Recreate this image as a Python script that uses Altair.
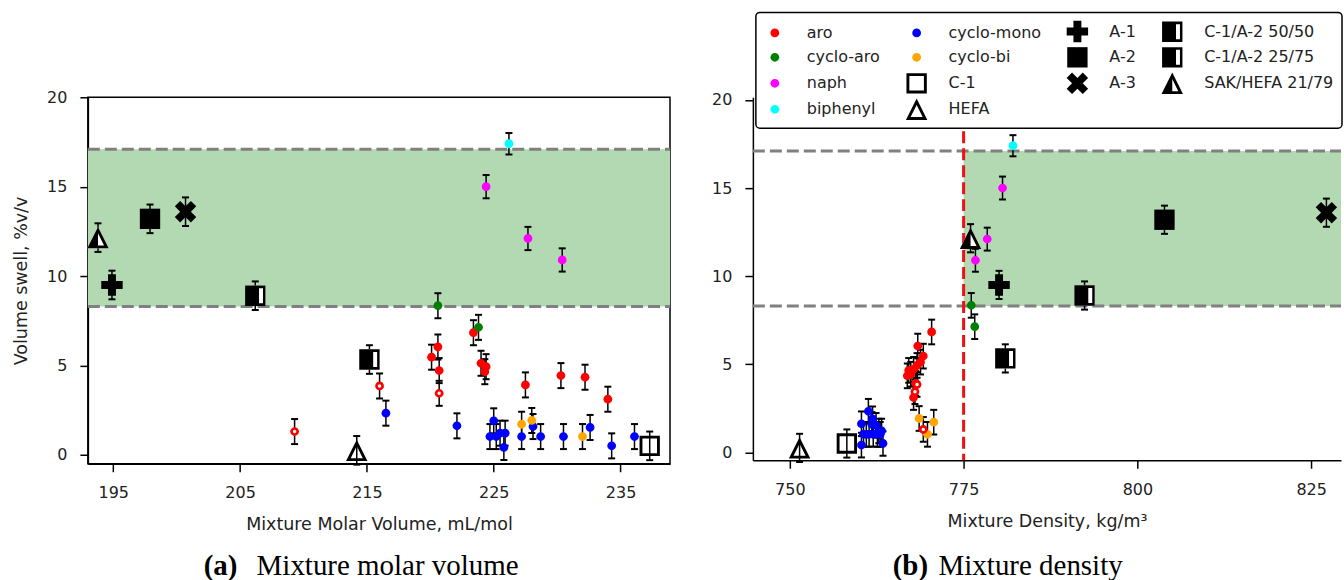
import altair as alt
import pandas as pd

# ---------------- data ----------------
# legend domain order (Vega lays a 4-column vertical legend out by index % 4)
legend_order = ["aro", "cyclo-aro", "naph", "SAK/HEFA 21/79",
                "cyclo-mono", "cyclo-bi", "C-1", "biphenyl",
                "A-1", "A-2", "A-3", "HEFA",
                "C-1/A-2 50/50", "C-1/A-2 25/75"]
legend_colors = ["#ff0000", "#008000", "#ff00ff", "black",
                 "#0000ff", "#ffa500", "black", "#00ffff",
                 "black", "black", "black", "black",
                 "black", "black"]

aro_mv = [220.6, 220.1, 220.7, 223.4, 224.0, 224.4, 224.3, 227.5, 230.3, 232.2, 234.0, 209.3, 216.0, 220.7]
aro_rho = [768.4, 769.2, 767.8, 770.4, 768.8, 768.3, 767.1, 768.1, 767.4, 766.9, 767.8, 769.2, 768.3, 768.0]
aro_sw = [6.03, 5.46, 4.71, 6.83, 5.12, 4.93, 4.65, 3.91, 4.43, 4.34, 3.11, 1.30, 3.85, 3.44]
aro_open = [0, 0, 0, 0, 0, 0, 0, 0, 0, 0, 0, 1, 1, 1]

cycloaro_mv = [220.6, 223.8]
cycloaro_rho = [776.1, 776.6]
cycloaro_sw = [8.34, 7.13]

naph_mv = [224.4, 227.7, 230.4]
naph_rho = [780.6, 778.4, 776.7]
naph_sw = [15.0, 12.1, 10.9]

biph_mv = [226.2]
biph_rho = [782.1]
biph_sw = [17.4]

mono_mv = [216.5, 222.1, 225.0, 224.7, 225.2, 225.5, 225.9, 225.8, 228.1, 227.2, 228.7, 230.5, 232.6, 234.3, 236.1]
mono_rho = [761.3, 760.3, 761.9, 761.0, 762.0, 762.8, 763.2, 760.3, 761.8, 760.6, 763.0, 761.4, 762.4, 763.4, 762.6]
mono_sw = [2.33, 1.62, 1.90, 1.02, 1.02, 1.21, 1.21, 0.41, 1.58, 1.02, 1.02, 1.02, 1.53, 0.50, 1.02]

bi_mv = [227.2, 228.0, 232.0]
bi_rho = [770.7, 768.6, 769.8]
bi_sw = [1.71, 1.92, 1.02]

fuel_names = ["A-1", "A-2", "A-3", "C-1", "HEFA", "C-1/A-2 50/50", "C-1/A-2 25/75", "SAK/HEFA 21/79"]
fuel_mv = [194.9, 197.9, 200.7, 237.3, 214.2, 206.2, 215.2, 193.8]
fuel_rho = [780.1, 803.9, 827.2, 758.2, 751.4, 792.4, 781.0, 776.0]
fuel_sw = [9.5, 13.2, 13.6, 0.5, 0.25, 8.9, 5.33, 12.15]

small_err = 0.7
fuel_err = 0.8

band_low, band_high = 8.3, 17.1
density_limit = 775

rows = []
def add(cat, mv, rho, sw, err, opn=None):
    for i in range(len(mv)):
        rows.append(dict(cat=cat, mv=mv[i], rho=rho[i], sw=sw[i],
                         lo=sw[i] - err, hi=sw[i] + err,
                         open=(opn[i] if opn else 0)))

add("cyclo-mono", mono_mv, mono_rho, mono_sw, small_err)
add("cyclo-bi", bi_mv, bi_rho, bi_sw, small_err)
add("aro", aro_mv, aro_rho, aro_sw, small_err, aro_open)
add("cyclo-aro", cycloaro_mv, cycloaro_rho, cycloaro_sw, small_err)
add("naph", naph_mv, naph_rho, naph_sw, 0.65)
add("biphenyl", biph_mv, biph_rho, biph_sw, 0.6)
for k, n in enumerate(fuel_names):
    add(n, [fuel_mv[k]], [fuel_rho[k]], [fuel_sw[k]], fuel_err)
df = pd.DataFrame(rows)

# ---------------- marker paths ----------------
CIRCLE = "M0.41,0A0.41,0.41 0 1,1 -0.41,0A0.41,0.41 0 1,1 0.41,0Z"
PLUS = ("M-0.37,-1L0.37,-1L0.37,-0.37L1,-0.37L1,0.37L0.37,0.37L0.37,1L-0.37,1"
        "L-0.37,0.37L-1,0.37L-1,-0.37L-0.37,-0.37Z")
SQUARE = "M-0.95,-0.95L0.95,-0.95L0.95,0.95L-0.95,0.95Z"
XMARK = "M-0.5,-1L0,-0.5L0.5,-1L1,-0.5L0.5,0L1,0.5L0.5,1L0,0.5L-0.5,1L-1,0.5L-0.5,0L-1,-0.5Z"
OPEN_SQ = SQUARE + " M-0.68,-0.68L-0.68,0.68L0.68,0.68L0.68,-0.68Z"
HALF_SQ = SQUARE + " M0.35,-0.7L0.35,0.7L0.72,0.7L0.72,-0.7Z"
TRI = "M0,-1L1,1L-1,1Z"
OPEN_TRI = TRI + " M0,-0.396L-0.563,0.73L0.563,0.73Z"
HALF_TRI = TRI + " M0,-0.396L0,0.73L0.563,0.73Z"
shape_of = {"aro": CIRCLE, "cyclo-aro": CIRCLE, "naph": CIRCLE, "biphenyl": CIRCLE,
            "cyclo-mono": CIRCLE, "cyclo-bi": CIRCLE, "C-1": OPEN_SQ, "HEFA": OPEN_TRI,
            "A-1": PLUS, "A-2": SQUARE, "A-3": XMARK,
            "C-1/A-2 50/50": HALF_SQ, "C-1/A-2 25/75": HALF_SQ, "SAK/HEFA 21/79": HALF_TRI}
legend_shapes = [shape_of[c] for c in legend_order]

FONT = "DejaVu Sans"
TXT = "#222222"
MSIZE = 460


def panel(xfield, xdom, ydom, w, h, xtitle, xticks, ytitle, legend,
          band_x0, vline, cap_b, cap_t, cap_bx, cap_tx, stroke, anchor):
    def X(f):
        return alt.X(f, type="quantitative",
                     scale=alt.Scale(domain=xdom, nice=False, zero=False),
                     axis=alt.Axis(values=xticks, title=xtitle))

    def Y(f):
        return alt.Y(f, type="quantitative",
                     scale=alt.Scale(domain=ydom, nice=False, zero=False),
                     axis=alt.Axis(values=[0, 5, 10, 15, 20], title=ytitle))

    band_df = pd.DataFrame({"x1": [band_x0], "x2": [xdom[1]],
                            "y1": [band_low], "y2": [band_high]})
    band = alt.Chart(band_df).mark_rect(color="#b3d9b3").encode(
        x=X("x1"), x2="x2", y=Y("y1"), y2="y2")
    hl = alt.Chart(pd.DataFrame({"yv": [band_low, band_high]})).mark_rule(
        color="#808080", strokeWidth=3, strokeDash=[12, 5]).encode(
        y=Y("yv"), x=alt.value(0), x2=alt.value(w))
    layers = [band, hl]
    if vline is not None:
        layers.append(alt.Chart(pd.DataFrame({"xv": [vline]})).mark_rule(
            color="#ee1111", strokeWidth=3, strokeDash=[12, 5]).encode(x=X("xv")))

    base = alt.Chart(df)
    layers.append(base.mark_rule(color="black", strokeWidth=1.5).encode(
        x=X(xfield), y=Y("lo"), y2="hi"))
    for f in ["lo", "hi"]:
        layers.append(base.mark_tick(color="black", orient="horizontal",
                                     size=7, thickness=2, opacity=1).encode(
            x=X(xfield), y=Y(f)))
    layers.append(base.transform_filter(
        alt.FieldOneOfPredicate(field="cat", oneOf=["C-1/A-2 50/50", "C-1/A-2 25/75"])
    ).mark_point(shape=SQUARE, filled=True, color="white", opacity=1, size=MSIZE).encode(
        x=X(xfield), y=Y("sw")))
    layers.append(base.transform_filter(
        alt.FieldOneOfPredicate(field="cat", oneOf=["SAK/HEFA 21/79"])
    ).mark_point(shape=TRI, filled=True, color="white", opacity=1, size=MSIZE).encode(
        x=X(xfield), y=Y("sw")))
    layers.append(base.mark_point(filled=True, opacity=1, size=MSIZE, strokeWidth=0).encode(
        x=X(xfield), y=Y("sw"),
        color=alt.Color("cat:N", scale=alt.Scale(domain=legend_order, range=legend_colors),
                        legend=legend, title=None),
        shape=alt.Shape("cat:N", scale=alt.Scale(domain=legend_order, range=legend_shapes),
                        legend=legend, title=None)))
    layers.append(base.transform_filter(alt.datum.open == 1).mark_point(
        filled=True, color="white", opacity=1, size=12, shape="circle").encode(
        x=X(xfield), y=Y("sw")))

    cap_df = pd.DataFrame({"b": [cap_b], "t": [cap_t]})
    layers.append(alt.Chart(cap_df).mark_text(
        font="Liberation Serif", fontSize=29, fontWeight="bold", align="left",
        baseline="alphabetic", color="black").encode(
        text="b:N", x=alt.value(cap_bx), y=alt.value(478)))
    layers.append(alt.Chart(cap_df).mark_text(
        font="Liberation Serif", fontSize=29, fontWeight="normal", align="left",
        baseline="alphabetic", color="black").encode(
        text="t:N", x=alt.value(cap_tx), y=alt.value(478)))
    if anchor:
        layers.append(alt.Chart(cap_df).mark_rule(opacity=0, strokeOpacity=0).encode(
            x=alt.value(-87), y=alt.value(-96), y2=alt.value(482)))

    return alt.layer(*layers).properties(
        width=w, height=h,
        view=alt.ViewBackground(stroke=stroke, strokeWidth=1.5))


LEG = alt.Legend(orient="none", legendX=3, legendY=-85, columns=4, gridAlign="each",
                 columnPadding=25, rowPadding=4, padding=8, labelOffset=21,
                 labelFont=FONT, labelFontSize=16, labelColor=TXT,
                 labelExpr="datum.label == 'SAK/HEFA 21/79' ? datum.label + '   ' : datum.label",
                 strokeColor="black", fillColor="white", cornerRadius=4,
                 symbolSize=MSIZE, symbolStrokeWidth=0, symbolOpacity=1, title=None)

left = panel("mv", [193.0, 238.9], [-0.5, 20], 583, 367,
             "Mixture Molar Volume, mL/mol", [195, 205, 215, 225, 235],
             "Volume swell, %v/v", None, 193.0, None,
             "(a)", "Mixture molar volume", 116, 169, "black", True)
right = panel("rho", [744.68, 829.3], [-0.45, 20.15], 589, 363.5,
              "Mixture Density, kg/m³", [750, 775, 800, 825],
              None, LEG, density_limit, density_limit,
              "(b)", "Mixture density", 140, 186, "transparent", False)

chart = alt.hconcat(left, right, spacing=83, bounds="flush").resolve_scale(
    color="independent", shape="independent"
).resolve_legend(
    color="independent", shape="independent"
).properties(
    padding={"left": 0, "top": 0, "right": 0, "bottom": 0},
    background="white",
).configure_axis(
    domainColor="black", domainWidth=1.5, tickColor="black", tickWidth=1.5, tickSize=8,
    labelFont=FONT, labelFontSize=16, labelColor=TXT,
    titleFont=FONT, titleFontSize=17.5, titleFontWeight="normal", titleColor=TXT,
    grid=False,
).configure_axisX(labelPadding=13, titlePadding=15).configure_axisY(
    labelPadding=13, titlePadding=16
).configure_legend(strokeWidth=1.5)

chart.save("out.html", embed_options={"renderer": "svg", "actions": False})
